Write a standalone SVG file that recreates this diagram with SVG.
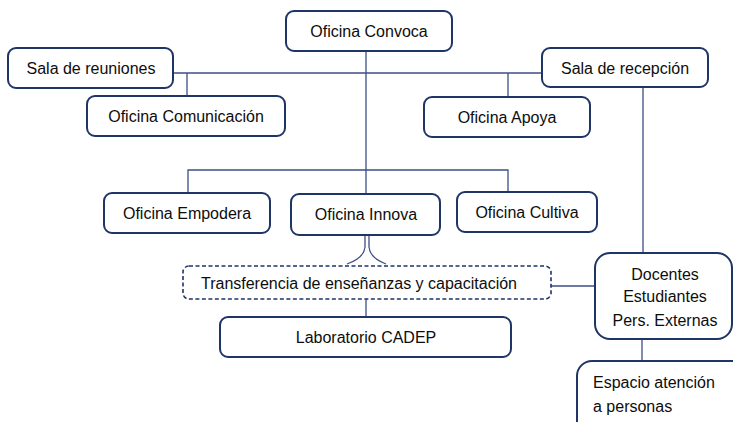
<svg xmlns="http://www.w3.org/2000/svg" width="733" height="422" viewBox="0 0 733 422">
<style>
.box{fill:#fff;stroke:#1f3566;stroke-width:2}
.dash{fill:#fff;stroke:#1f3566;stroke-width:1.6;stroke-dasharray:4 2.5}
.c{fill:none;stroke:#3d4f85;stroke-width:1.3}
text{font-family:"Liberation Sans",Arial,sans-serif;font-size:16px;fill:#0d0d0d}
.m{text-anchor:middle}
</style>
<rect width="733" height="422" fill="#fff"/>
<g id="connectors">
<path class="c" d="M366 51V194"/>
<path class="c" d="M173 73H542"/>
<path class="c" d="M187 73V96"/>
<path class="c" d="M508 73V97"/>
<path class="c" d="M188 192V170H508V192"/>
<path class="c" d="M643 87V253"/>
<path class="c" d="M365 235V247Q364 258 347 264"/>
<path class="c" d="M369 235V247Q370 258 386 264"/>
<path class="c" d="M551 286H596"/>
<path class="c" d="M366 299V317"/>
<path class="c" d="M642 339V361"/>
</g>
<g id="convoca"><rect class="box" x="286" y="11" width="166" height="40" rx="8"/><text class="m" x="369" y="37">Oficina Convoca</text></g>
<g id="reuniones"><rect class="box" x="8" y="48" width="165" height="40" rx="8"/><text class="m" x="91" y="74">Sala de reuniones</text></g>
<g id="comunicacion"><rect class="box" x="87" y="96" width="198" height="40" rx="8"/><text class="m" x="186" y="122">Oficina Comunicación</text></g>
<g id="recepcion"><rect class="box" x="542" y="48" width="166" height="39" rx="8"/><text class="m" x="625" y="74">Sala de recepción</text></g>
<g id="apoya"><rect class="box" x="424" y="97" width="166" height="40" rx="8"/><text class="m" x="507" y="123">Oficina Apoya</text></g>
<g id="empodera"><rect class="box" x="104" y="193" width="166" height="40" rx="8"/><text class="m" x="187" y="219">Oficina Empodera</text></g>
<g id="innova"><rect class="box" x="291" y="194" width="149" height="41" rx="8"/><text class="m" x="366" y="220">Oficina Innova</text></g>
<g id="cultiva"><rect class="box" x="457" y="192" width="140" height="40" rx="8"/><text class="m" x="527" y="218">Oficina Cultiva</text></g>
<g id="transferencia"><rect class="dash" x="183" y="266" width="368" height="33" rx="6"/><text class="m" x="359" y="289">Transferencia de enseñanzas y capacitación</text></g>
<g id="laboratorio"><rect class="box" x="220" y="317" width="291" height="40" rx="8"/><text class="m" x="366" y="343">Laboratorio CADEP</text></g>
<g id="docentes"><rect class="box" x="595" y="253" width="137" height="86" rx="15"/><text class="m" x="665" y="280">Docentes</text><text class="m" x="665" y="302">Estudiantes</text><text class="m" x="665" y="326">Pers. Externas</text></g>
<g id="espacio"><rect class="box" x="577" y="361" width="170" height="80" rx="15"/><text x="593" y="388">Espacio atención</text><text x="593" y="412">a personas</text></g>
</svg>
